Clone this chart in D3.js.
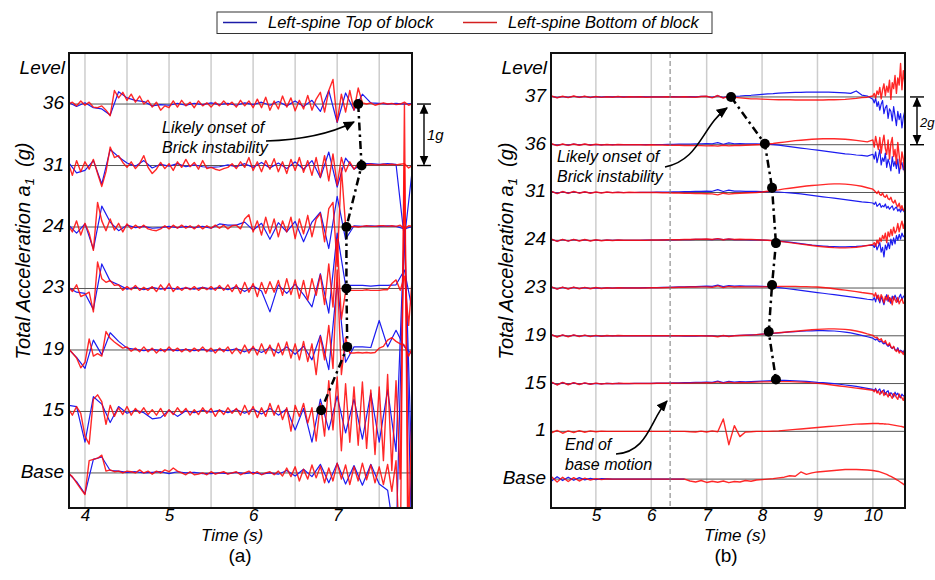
<!DOCTYPE html>
<html>
<head>
<meta charset="utf-8">
<script src="https://cdnjs.cloudflare.com/ajax/libs/d3/7.8.5/d3.min.js"></script>
<style>
body { margin: 0; background: #fff; }
svg text { font-family: "Liberation Sans", Arial, sans-serif; fill: #000; }
</style>
</head>
<body>
<div id="chart-area"></div>
<script>
// ---------- data (trace values in 0.01 g, relative to each level's baseline) ----------
var levelsA = ["Base", "15", "19", "23", "24", "31", "36"];   // 1 g apart
var levelsB = ["Base", "1", "15", "19", "23", "24", "31", "36", "37"];   // 2 g apart
var ticksA = [4, 5, 6, 7];
var gridA = [4, 4.5, 5, 5.5, 6, 6.5, 7, 7.5];
var ticksB = [5, 6, 7, 8, 9, 10];
var endOfBaseMotion = 6.34;

// panel (a): red sampled every 0.05 s from 3.80 s, blue every 0.1 s from 3.8 s
var timesRedA = d3.range(76, 159).map(d => d / 20);
var timesBlueA = d3.range(38, 80).map(d => d / 10);

var redA36 = [0,3,-3,5,-2,3,-5,-6,-3,-10, -19,22,10,19,6,16,3,13,0,6, -5,3,-10,-3,-6,5,-5,6,-3,3, -6,5,-3,2,-5,3,-3,5,-2,3, -5,6,-3,5,-6,8,-6,11,-10,5, -8,13,-5,10,-11,6,-8,14,-10,8, 19,-13,22,40,-29,16,-13,22,-10,26, 2,0,2,-2,0,2,0,1,-1,0,3,-2,1];
var redA31 = [5,-16,8,-10,6,-6,10,-13,-34,-10, 30,13,16,5,-3,6,-5,3,16,-3, -13,-6,5,-5,3,-8,6,-3,10,-2, 5,-6,8,-5,-3,-6,-8,-5,-3,3, -5,6,-3,13,-8,6,-10,8,-6,11, -10,6,-13,10,-8,13,-11,8,-16,13, -19,16,-25,19,-32,13,-10,6,-6,3, 2,1,2,1,1,2,1,2,1,2,3,-4,1];
var redA24 = [3,-8,10,-13,6,-10,-38,40,10,-6, 13,-5,6,-8,5,-3,3,-2,3,-3, -5,-6,-3,2,-3,3,-2,3,-2,2, -3,3,-3,2,-2,3,-2,3,-3,2, 3,-3,13,20,-8,10,-13,16,-10,13, -16,10,-8,16,-19,13,-11,19,-16,13, 22,-24,30,40,-64,96,2,0,1,0, 1,2,1,1,2,2,1,2,1,3,-3,2,1];
var redA23 = [3,-5,6,-13,-10,-6,-38,43,16,10, 13,5,6,-3,3,-2,5,-3,2,-3, 3,-5,6,-3,8,-5,3,-3,2,-2, 3,-3,2,-2,3,-3,5,-3,6,-5, 6,-8,10,-6,8,-13,10,-8,11,-6, 13,-11,16,-10,14,-16,13,-19,16,-11, 22,-26,40,-30,80,-50,-5,-3,-3,-3, -3,-2,-3,-3,-3,-2,-2,8,14,-3,20,-60,30];
var redA19 = [3,-5,-13,-29,-20,18,-10,-6,-10,30, 19,13,8,3,5,-2,3,-3,5,-3, 3,-5,2,-3,5,-2,3,-3,2,-3, 3,-2,5,-3,3,-5,3,-3,5,-6, 3,-6,8,-5,6,-8,10,-6,8,-10, 11,-8,13,-13,10,-16,14,-19,10,-40, 22,-16,40,-30,130,-40,20,-5,-5,-4, -5,-4,-5,-4,3,6,16,20,14,10,8,-10,5];
var redA15 = [5,-6,8,-3,-40,-53,20,27,16,-21, 10,-8,6,-5,8,-6,5,-3,6,-5, 3,-6,5,-8,3,-5,6,-3,5,-6, 3,-5,6,-3,5,-8,3,-5,6,-3, 5,-6,10,-5,8,-10,6,-8,13,-6, 10,-13,6,-32,10,-8,13,-19,6,-48, 13,-40,50,-30,56,-64,45,-50,40,-55, 48,-60,35,-70,40,-80,60,-96,50,-110,400,-200,60];
var redABase = [0,-6,-16,-26,-35,20,22,24,29,3, 5,2,3,0,3,2,0,5,0,3, -2,3,0,5,2,8,3,0,-3,2, -3,-2,0,-3,2,-2,0,2,-2,0, 2,-3,0,3,-2,2,-3,0,2,-3, 3,-5,8,-6,10,-13,6,-10,13,-8, 11,-16,8,-13,16,-10,13,-19,10,-13, 16,-11,13,-16,10,-19,14,-30,20,-160,600,-300,-200];

var blueA36 = [3,-4,2,-6,-8,-18,20,10,6,4, -3,-1,-2,1,-2,1,-1,2,-1,1, -2,2,-1,3,-2,4,-3,5,-4,6, -12,22,-30,18,-10,16,2,1,0,1, 0,1];
var blueA31 = [6,-12,-8,8,-30,26,14,4,-1,8, -4,2,-1,3,-2,1,-2,-3,-2,1, -2,3,-3,5,-4,4,-5,6,-6,8, -20,22,-35,12,-6,3,3,2,3,2, -120,2];
var blueA24 = [4,-10,5,-36,34,8,-6,3,-1,1, -2,-1,1,-1,1,-1,1,-2,5,3, 3,8,-5,6,-20,7,-8,9,-24,8, 24,-35,50,-20,2,1,2,1,2,1, -3,1];
var blueA23 = [2,-6,-8,-34,40,12,6,-1,2,-2, 2,-1,1,-1,1,-1,2,-1,2,-2, 3,-5,4,-4,-38,6,-8,7,-10,-30, 24,-40,90,5,5,5,4,5,5,6, 30,-40];
var blueA19 = [2,-12,-30,16,-8,28,14,3,1,-1, 1,-1,1,-1,1,-1,1,-2,1,-1, 2,-3,3,-4,4,-5,5,-7,6,-16, 24,-32,110,-20,5,5,4,48,5,32, 5,-8];
var blueA15 = [10,8,-50,24,12,-18,8,-3,2,-2, -12,-10,2,-8,1,-2,2,-1,2,-2, 3,-3,4,-4,5,-6,4,-30,5,-50, 20,-30,25,-35,20,-45,30,-50,35,-65, 300,-150];
var blueABase = [0,-14,-34,22,26,4,3,1,2,0, 1,2,-1,2,0,1,-1,-1,0,-1, 1,-1,1,-2,0,-2,4,-5,6,-6, 14,-16,16,-18,12,-20,14,-18,-28,-120, 400,-200];

// panel (b): every 0.1 s from 4.2 to 9.9 s, then every 0.025 s from 10.0 to 10.6 s
var timesB = d3.range(42, 100).map(d => d / 10).concat(d3.range(400, 425).map(d => d / 40));

var redB37 = [4,-4,3,-3,4,-2,3,-3,2,-2, 1,-1,2,-1,1,0,1,-1,0,0, 0,1,0,0,1,0,-1,2,3,-4, 6,-5,4,-2,-4,-6,-8,-8, -9,-10,-11,-12,-12,-12,-13,-13,-13,-13, -13,-13,-12,-12,-11,-10,-8,-6,-3,-1,
  4,15,-5,25,10,40,-8,30,55,5,45,20,70,-10,60,35,90,15,80,50,140,30,110,60,100];
var blueB37 = [3,-3,2,-2,3,-1,2,-2,1,-1, 1,0,1,0,0,0,1,0,0,0, 0,0,1,0,0,1,0,2,2,-2, 5,-3,4,3,4,6,7,9, 11,13,14,16,17,18,19,19,20,20, 20,20,20,19,18,17,15,25,8,4,
  -10,-25,-5,-40,-20,-55,-30,-15,-70,-45,-35,-90,-50,-60,-100,-40,-80,-120,-60,-95,-70,-130,-85,-60,-110];
var redB36 = [4,-4,3,-3,3,-2,3,-2,2,-1, 1,-1,1,0,0,0,0,-1,0,-1, -1,-2,-2,-2,-3,-3,-4,-4,-5,-4, -6,-2,-5,-3,-3,-2,-1,0, 1,3,5,8,11,14,17,19,21,23, 24,25,25,25,24,23,21,18,15,12,
  20,-10,35,5,-20,30,-35,10,40,-15,-40,20,-60,5,30,-50,-20,-80,10,-45,-100,-30,-60,-120,-70];
var blueB36 = [3,-3,2,-2,3,-1,2,-1,1,-1, 1,0,1,0,0,1,0,0,1,1, 1,2,2,3,3,3,4,4,5,4, 9,2,8,4,5,4,4,4, 3,2,0,-2,-5,-8,-11,-14,-17,-20, -23,-26,-29,-32,-35,-38,-40,-43,-45,-48,
  -40,-60,-30,-75,-50,-20,-85,-55,-70,-35,-95,-60,-80,-110,-50,-90,-70,-100,-60,-120,-85,-75,-105,-65,-95];
var redB31 = [5,-5,4,-4,4,-3,3,-3,2,-2, 2,-1,1,-1,1,0,0,0,0,0, -1,-1,-2,-2,-3,-3,-4,-4,-5,-6, -10,-3,-7,-4,-3,-2,-1,0, 2,5,8,11,15,18,21,24,27,29, 31,33,35,36,36,35,33,30,26,20,
  14,8,2,-4,6,-8,-12,-2,-16,-20,-10,-26,-30,-20,-38,-44,-32,-50,-60,-45,-70,-55,-75,-68,-80];
var blueB31 = [4,-4,3,-3,3,-2,2,-2,1,-1, 1,0,1,0,0,0,1,1,1,2, 2,2,3,3,4,4,5,5,6,5, 12,4,10,6,6,5,5,5, 4,4,3,2,0,-2,-4,-6,-9,-12, -15,-18,-21,-24,-27,-30,-33,-36,-39,-41,
  -44,-50,-40,-58,-52,-46,-62,-55,-60,-48,-66,-58,-70,-62,-56,-74,-66,-60,-78,-70,-82,-68,-76,-84,-72];
var redB24 = [5,-5,4,-4,4,-3,3,-3,2,-2, 1,-1,1,0,0,0,0,0,1,1, 1,2,2,2,3,3,4,4,5,3, 7,2,6,3,4,3,3,2, 1,0,-2,-4,-7,-10,-13,-16,-19,-22, -25,-27,-29,-31,-32,-32,-31,-29,-26,-22,
  -18,-10,-25,0,-15,10,-5,20,5,30,-10,35,15,45,20,55,30,40,70,35,60,80,50,75,65];
var blueB24 = [4,-4,3,-3,3,-2,2,-2,1,-1, 1,0,1,0,0,0,0,1,1,1, 2,2,2,3,3,3,4,4,4,3, 6,3,5,3,3,3,2,2, 1,0,-2,-4,-6,-8,-11,-14,-17,-20, -22,-24,-26,-27,-28,-28,-27,-26,-24,-22,
  -20,-30,-15,-40,-25,-10,-50,-30,-70,-20,-40,-10,-35,5,-20,10,-15,20,0,25,5,30,15,20,25];
var redB23 = [5,-5,4,-4,4,-3,3,-3,2,-2, 1,-1,1,0,0,0,0,0,1,1, 1,2,2,3,3,4,4,5,5,3, 9,2,7,4,6,5,5,5, 5,6,6,7,7,7,7,6,6,5, 4,2,0,-3,-6,-9,-12,-15,-19,-22,
  -25,-35,-20,-45,-30,-55,-28,-40,-62,-35,-50,-30,-58,-42,-70,-36,-48,-60,-40,-66,-52,-45,-64,-58,-62];
var blueB23 = [4,-4,3,-3,3,-2,2,-2,1,-1, 1,0,1,1,1,1,1,2,2,2, 3,3,4,5,5,6,6,7,8,7, 12,6,10,8,9,8,8,8, 7,6,4,2,-1,-4,-7,-10,-13,-16, -19,-22,-25,-28,-31,-34,-37,-40,-43,-47,
  -50,-40,-58,-30,-46,-62,-36,-52,-70,-44,-28,-56,-40,-64,-34,-50,-30,-44,-58,-38,-26,-48,-36,-30,-40];
var redB19 = [5,-5,4,-4,4,-3,3,-3,2,-2, 1,-1,1,0,0,0,0,0,0,0, 0,0,0,0,0,0,0,0,-1,-1, -4,1,-3,0,1,2,3,5, 7,9,11,13,15,17,19,21,23,25, 27,28,29,29,28,27,24,20,15,8,
  2,-4,-8,-6,-14,-18,-12,-24,-28,-20,-34,-40,-30,-46,-52,-44,-60,-66,-56,-72,-64,-70,-78,-58,-50];
var blueB19 = [4,-4,3,-3,3,-2,2,-2,1,-1, 0,0,0,0,0,0,0,0,0,0, 0,0,0,0,-1,-1,-1,0,0,0, -3,1,-2,1,2,3,4,5, 7,8,10,12,14,16,17,19,20,21, 22,22,21,20,18,15,12,7,2,-4,
  -10,-14,-18,-12,-22,-26,-20,-30,-34,-28,-38,-44,-36,-48,-54,-46,-58,-62,-50,-66,-60,-64,-70,-56,-48];
var redB15 = [6,-6,5,-5,4,-4,3,-3,2,-2, 1,-1,1,0,0,0,0,0,0,1, 1,1,1,2,2,2,3,3,4,3, 7,2,6,3,5,4,5,6, 7,7,8,8,8,8,7,6,5,3, 1,-1,-4,-7,-10,-13,-16,-19,-22,-25,
  -28,-34,-24,-40,-32,-46,-36,-30,-50,-38,-44,-56,-40,-52,-62,-42,-48,-58,-66,-44,-54,-60,-70,-50,-46];
var blueB15 = [5,-5,4,-4,3,-3,2,-2,1,-1, 1,0,1,0,0,1,1,1,1,2, 2,2,3,3,4,4,5,5,6,5, 10,4,9,6,8,7,8,9, 10,11,12,13,13,12,11,10,9,7, 5,4,2,0,-3,-6,-9,-12,-16,-20,
  -24,-30,-20,-36,-28,-22,-40,-32,-26,-46,-34,-30,-50,-38,-44,-56,-36,-48,-40,-54,-60,-44,-52,-48,-42];
var redB1 = [-6,4,-8,2,-5,3,-4,2,-2,1, 0,0,0,0,0,0,0,0,0,0, 0,0,0,0,0,-2,-3,1,-3,2, -2,52,-56,24,-22,-3,-2,0, 0,0,1,2,4,6,8,10,12,14, 16,18,20,22,24,26,28,30,31,32,
  33,33,33,33,33,32,32,32,31,31,30,30,29,28,27,26,25,24,23,22,21,20,18,16,14];
var blueB1 = [];
var redBBase = [10,-12,8,-10,6,-8,4,-4,2,-2, 1,0,0,0,0,0,0,0,0,0, 0,0,0,0,0,-8,-12,-6,-14,-9, -13,-8,-15,-10,-12,-6,-9,-4, -2,0,2,5,8,14,12,30,20,26, 30,32,34,36,38,40,40,40,39,38,
  36,35,34,33,32,30,28,26,24,22,20,17,14,11,8,5,2,-2,-5,-9,-13,-17,-21,-25,-29];
var blueBBase = [-8,10,-6,8,-5,6,-3,3,-2,2, 1,0,0,0,0,0,0,0,0,0, 0,0,0,0,0];

// onset of brick instability, per level
var onsetLevelsA = ["36", "31", "24", "23", "19", "15"];
var onsetTimesA = [7.25, 7.29, 7.11, 7.11, 7.12, 6.81];
var onsetLiftA = [0, 0, 0, 0, 0.05, 0.02];
var onsetLevelsB = ["37", "36", "31", "24", "23", "19", "15"];
var onsetTimesB = [7.44, 8.05, 8.18, 8.25, 8.18, 8.12, 8.25];
var onsetLiftB = [0, 0.04, 0.2, -0.12, 0.13, 0.17, 0.17];

var redA = [redABase, redA15, redA19, redA23, redA24, redA31, redA36];
var blueA = [blueABase, blueA15, blueA19, blueA23, blueA24, blueA31, blueA36];
var redB = [redBBase, redB1, redB15, redB19, redB23, redB24, redB31, redB36, redB37];
var blueB = [blueBBase, blueB1, blueB15, blueB19, blueB23, blueB24, blueB31, blueB36, blueB37];

// ---------- layout ----------
var boxA = { left: 69, right: 412, top: 53, bottom: 508 };
var boxB = { left: 551, right: 905, top: 53, bottom: 508 };
var redColor = "#ff0a0a", blueColor = "#1c1cf0";

var svg = d3.select("#chart-area")
    .append("svg")
    .attr("width", 935)
    .attr("height", 580);

var defs = svg.append("defs");
defs.append("marker")
    .attr("id", "head")
    .attr("viewBox", "0 0 10 10")
    .attr("refX", 9).attr("refY", 5)
    .attr("markerWidth", 7).attr("markerHeight", 7)
    .attr("orient", "auto-start-reverse")
    .append("path")
    .attr("d", "M0,0.5L10,5L0,9.5z")
    .attr("fill", "#000");

var xA = d3.scaleLinear().domain([3.81, 7.89]).range([boxA.left, boxA.right]);
var yA = d3.scaleLinear().domain([-0.57, 6.83]).range([boxA.bottom, boxA.top]);
var xB = d3.scaleLinear().domain([4.19, 10.58]).range([boxB.left, boxB.right]);
var yB = d3.scaleLinear().domain([-1.21, 17.84]).range([boxB.bottom, boxB.top]);

function drawPanel(id, box, x, y, levels, spacing, grid, ticks, timesRed, timesBlue, reds, blues) {
    var g = svg.append("g");

    defs.append("clipPath").attr("id", "clip-" + id)
        .append("rect")
        .attr("x", box.left).attr("y", box.top)
        .attr("width", box.right - box.left).attr("height", box.bottom - box.top);

    // vertical grid
    g.selectAll(".grid")
        .data(grid)
        .enter().append("line")
        .attr("x1", d => x(d)).attr("x2", d => x(d))
        .attr("y1", box.top).attr("y2", box.bottom)
        .attr("stroke", "#cdcdcd")
        .attr("stroke-width", 1.5);

    // level baselines
    g.selectAll(".baseline")
        .data(levels)
        .enter().append("line")
        .attr("x1", box.left).attr("x2", box.right)
        .attr("y1", (d, i) => y(i * spacing)).attr("y2", (d, i) => y(i * spacing))
        .attr("stroke", "#555")
        .attr("stroke-width", 1);

    var traces = g.append("g").attr("clip-path", "url(#clip-" + id + ")");

    function addTraces(series, times, color, opacity, width) {
        series.forEach(function(values, k) {
            if (!values.length) return;
            var line = d3.line()
                .x((d, i) => x(times[i]))
                .y(d => y(k * spacing + d / 100));
            traces.append("path")
                .datum(values.slice(0, times.length))
                .attr("d", line)
                .attr("fill", "none")
                .attr("stroke", color)
                .attr("stroke-opacity", opacity)
                .attr("stroke-width", width)
                .attr("stroke-linejoin", "round");
        });
    }
    addTraces(blues, timesBlue, blueColor, 1, 1.2);
    addTraces(reds, timesRed, redColor, 0.88, 1.4);

    // level labels
    g.selectAll(".level")
        .data(levels)
        .enter().append("text")
        .attr("x", box.left - 5)
        .attr("y", (d, i) => y(i * spacing) + 5)
        .attr("text-anchor", "end")
        .style("font-size", "19px")
        .style("font-style", "italic")
        .text(d => d);

    g.append("text")
        .attr("x", box.left - 4)
        .attr("y", 74)
        .attr("text-anchor", "end")
        .style("font-size", "19px")
        .style("font-style", "italic")
        .text("Level");

    // time axis
    var axis = g.append("g")
        .attr("transform", "translate(0," + box.bottom + ")")
        .call(d3.axisBottom(x).tickValues(ticks).tickSize(0).tickFormat(d3.format("d")));
    axis.select(".domain").remove();
    axis.selectAll("text")
        .attr("y", 13)
        .attr("dy", 0)
        .attr("font-family", null)
        .style("font-size", "17px")
        .style("font-style", "italic");

    return g;
}

var gA = drawPanel("a", boxA, xA, yA, levelsA, 1, gridA, ticksA, timesRedA, timesBlueA, redA, blueA);
var gB = drawPanel("b", boxB, xB, yB, levelsB, 2, ticksB, ticksB, timesB, timesB, redB, blueB);

// end of base motion marker
gB.append("line")
    .attr("x1", xB(endOfBaseMotion)).attr("x2", xB(endOfBaseMotion))
    .attr("y1", boxB.top).attr("y2", boxB.bottom)
    .attr("stroke", "#777")
    .attr("stroke-width", 1)
    .attr("stroke-dasharray", "5,3");

// onset dots and dash-dot connector
function drawOnset(g, x, y, levels, spacing, names, times, lifts) {
    var pts = names.map((n, i) => [x(times[i]), y(levels.indexOf(n) * spacing + lifts[i])]);
    g.append("path")
        .attr("d", d3.line()(pts))
        .attr("fill", "none")
        .attr("stroke", "#000")
        .attr("stroke-width", 2.5)
        .attr("stroke-dasharray", "8,4,2.5,4");
    g.selectAll(".dot")
        .data(pts)
        .enter().append("circle")
        .attr("cx", d => d[0]).attr("cy", d => d[1])
        .attr("r", 5)
        .attr("fill", "#000");
}
drawOnset(gA, xA, yA, levelsA, 1, onsetLevelsA, onsetTimesA, onsetLiftA);
drawOnset(gB, xB, yB, levelsB, 2, onsetLevelsB, onsetTimesB, onsetLiftB);

// frames
[boxA, boxB].forEach(function(b) {
    svg.append("rect")
        .attr("x", b.left).attr("y", b.top)
        .attr("width", b.right - b.left).attr("height", b.bottom - b.top)
        .attr("fill", "none")
        .attr("stroke", "#111")
        .attr("stroke-width", 2);
});

// annotations
function note(x, y, lines) {
    lines.forEach(function(t, i) {
        svg.append("text")
            .attr("x", x).attr("y", y + i * 20)
            .style("font-size", "16px")
            .style("font-style", "italic")
            .text(t);
    });
}
function arrow(d) {
    svg.append("path")
        .attr("d", d)
        .attr("fill", "none")
        .attr("stroke", "#000")
        .attr("stroke-width", 1.6)
        .attr("marker-end", "url(#head)");
}
note(162, 133, ["Likely onset of", "Brick instability"]);
arrow("M266,141 C300,140 330,134 354,122");
note(557, 162, ["Likely onset of", "Brick instability"]);
arrow("M665,167 C700,160 702,126 727,108");
note(565, 450, ["End of", "base motion"]);
arrow("M616,454 C648,452 650,420 667,401");

// scale bars
function scaleBar(x, y1, y2, label, ty, size) {
    svg.append("line")
        .attr("x1", x).attr("x2", x).attr("y1", y1 + 1).attr("y2", y2 - 1)
        .attr("stroke", "#000").attr("stroke-width", 1.4)
        .attr("marker-start", "url(#head)")
        .attr("marker-end", "url(#head)");
    [y1, y2].forEach(function(yy) {
        svg.append("line")
            .attr("x1", x - 7).attr("x2", x + 7).attr("y1", yy).attr("y2", yy)
            .attr("stroke", "#000").attr("stroke-width", 1.4);
    });
    svg.append("text")
        .attr("x", x + 3).attr("y", ty)
        .style("font-size", size)
        .style("font-style", "italic")
        .text(label);
}
scaleBar(424, yA(6), yA(5), "1g", 140, "15px");
scaleBar(917, yB(16), yB(14), "2g", 127, "13px");

// y axis titles
[[30, "a"], [513, "b"]].forEach(function(p) {
    var t = svg.append("text")
        .attr("transform", "translate(" + p[0] + ",251) rotate(-90)")
        .attr("text-anchor", "middle")
        .style("font-size", "20px")
        .style("font-style", "italic");
    t.append("tspan").text("Total Acceleration a");
    t.append("tspan").attr("dy", 4).style("font-size", "13px").text("1");
    t.append("tspan").attr("dy", -4).text("\u00a0\u00a0(g)");
});

// x titles and panel letters
[[232, "(a)", 240], [735, "(b)", 726]].forEach(function(p) {
    svg.append("text")
        .attr("x", p[0]).attr("y", 541)
        .attr("text-anchor", "middle")
        .style("font-size", "17px")
        .style("font-style", "italic")
        .text("Time (s)");
    svg.append("text")
        .attr("x", p[2]).attr("y", 562)
        .attr("text-anchor", "middle")
        .style("font-size", "19px")
        .text(p[1]);
});

// legend
var legend = svg.append("g");
legend.append("rect")
    .attr("x", 217).attr("y", 12)
    .attr("width", 495).attr("height", 21.5)
    .attr("fill", "#fff")
    .attr("stroke", "#333")
    .attr("stroke-width", 1);
[["Left-spine Top of block", "#1c1ca8", 223], ["Left-spine Bottom of block", "#d42020", 463]].forEach(function(e) {
    legend.append("line")
        .attr("x1", e[2]).attr("x2", e[2] + 34)
        .attr("y1", 22.5).attr("y2", 22.5)
        .attr("stroke", e[1])
        .attr("stroke-width", 1.6);
    legend.append("text")
        .attr("x", e[2] + 45).attr("y", 28)
        .style("font-size", "16.5px")
        .style("font-style", "italic")
        .text(e[0]);
});
</script>
</body>
</html>
